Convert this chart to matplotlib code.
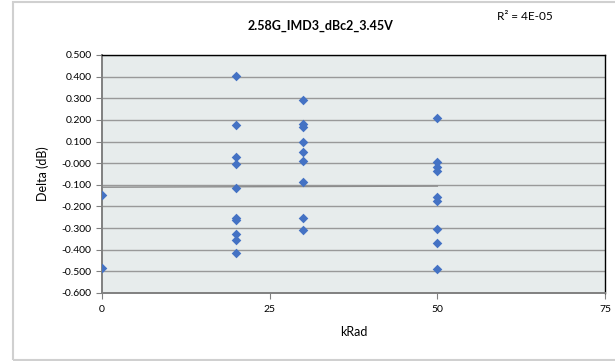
import numpy as np
import matplotlib.pyplot as plt
from matplotlib.patches import Rectangle

plt.rcParams['font.family'] = ['Lato', 'DejaVu Sans']

# data
krad_0 = [0, 0]
delta_0 = [-0.148, -0.483]
krad_20 = [20] * 10
delta_20 = [0.401, 0.177, 0.028, -0.004, -0.113, -0.252, -0.262, -0.325, -0.356, -0.417]
krad_30 = [30] * 9
delta_30 = [0.292, 0.180, 0.166, 0.100, 0.051, 0.010, -0.087, -0.253, -0.310]
krad_50 = [50] * 9
delta_50 = [0.210, 0.007, -0.016, -0.035, -0.155, -0.176, -0.302, -0.370, -0.488]

trend_intercept = -0.111
trend_slope = 0.0001
trend_x = [0, 50]

title = '2.58G_IMD3_dBc2_3.45V'
r2_text = 'R² = 4E-05'
x_ticks = [0, 25, 50, 75]
y_ticks = np.round(np.arange(-0.6, 0.5001, 0.1), 1)

x = np.array(krad_0 + krad_20 + krad_30 + krad_50)
y = np.array(delta_0 + delta_20 + delta_30 + delta_50)

fig = plt.figure(figsize=(6.15, 3.61), dpi=100)
ax = fig.add_axes([102 / 615, 1 - 293 / 361, 503 / 615, 238 / 361])

# outer chart border
fig.patches.append(Rectangle((13 / 615, 1 / 361), 640 / 615, 358 / 361,
                             transform=fig.transFigure, fill=False,
                             edgecolor='#D0D0D0', linewidth=1.5))

ax.set_facecolor('#E7ECEC')
ax.scatter(x, y, marker='D', s=24, color='#4472C4', zorder=3, linewidths=0)
tx = np.array(trend_x)
ax.plot(tx, trend_intercept + trend_slope * tx, color='#8C8C8C', linewidth=1.0, zorder=2)

ax.set_xlim(0, 75)
ax.set_ylim(-0.6, 0.5)
ax.set_xticks(x_ticks)
ax.set_yticks(y_ticks)
ax.set_yticklabels([f'{v:.3f}' for v in y_ticks])
ax.yaxis.grid(True, color='#999999', linewidth=1.0)
ax.set_axisbelow(True)
ax.tick_params(axis='both', labelsize=7.5, length=4, width=0.8, color='#808080', direction='out')
ax.tick_params(axis='x', pad=5)

for side in ['top', 'right']:
    ax.spines[side].set_color('black')
    ax.spines[side].set_linewidth(1.0)
for side in ['left', 'bottom']:
    ax.spines[side].set_color('#808080')
    ax.spines[side].set_linewidth(1.4)

ax.set_xlabel('kRad', fontsize=9, labelpad=8)
ax.set_ylabel('Delta (dB)', fontsize=9, labelpad=9)

fig.text(320 / 615, 1 - 26 / 361, title, fontsize=9, fontweight='bold',
         ha='center', va='center')
fig.text(525 / 615, 1 - 16 / 361, r2_text, fontsize=8.5, ha='center', va='center')

fig.savefig('out.png', dpi=100)
